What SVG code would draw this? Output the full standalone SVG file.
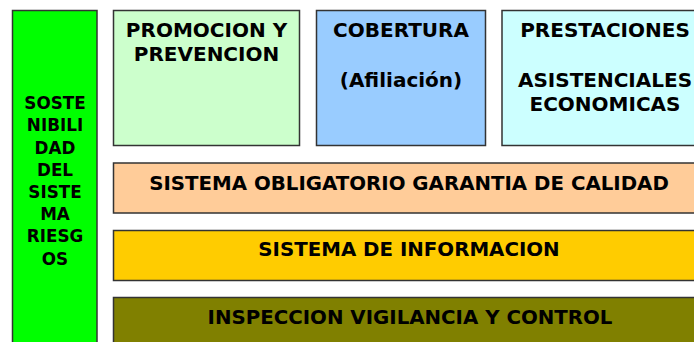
<svg xmlns="http://www.w3.org/2000/svg" width="694" height="342" viewBox="0 0 694 342">
<style>
.box{stroke:#333;stroke-width:1.5}
.t{font-family:"DejaVu Sans",Verdana,sans-serif;font-weight:bold;font-size:20px;fill:#000;text-anchor:middle}
.b{font-size:19.8px}
.s{font-size:16.8px}
</style>
<rect width="694" height="342" fill="#fff"/>
<g id="sostenibilidad">
<rect class="box" x="12.5" y="10.5" width="84.5" height="340" fill="#00FF00"/>
<text class="t s" x="55" y="109">SOSTE</text>
<text class="t s" x="55" y="131.3">NIBILI</text>
<text class="t s" x="55" y="153.5">DAD</text>
<text class="t s" x="55" y="175.7">DEL</text>
<text class="t s" x="55" y="197.9">SISTE</text>
<text class="t s" x="55" y="220.1">MA</text>
<text class="t s" x="55" y="242.3">RIESG</text>
<text class="t s" x="55" y="264.5">OS</text>
</g>
<g id="promocion">
<rect class="box" x="113.5" y="10.5" width="186" height="135" fill="#CCFFCC"/>
<text class="t" x="206.5" y="37">PROMOCION Y</text>
<text class="t" x="206.5" y="61">PREVENCION</text>
</g>
<g id="cobertura">
<rect class="box" x="316.5" y="10.5" width="169" height="135" fill="#99CCFF"/>
<text class="t" x="401" y="37">COBERTURA</text>
<text class="t" x="401" y="87">(Afiliación)</text>
</g>
<g id="prestaciones">
<rect class="box" x="502" y="10.5" width="206" height="135" fill="#CCFFFF"/>
<text class="t" x="605" y="37">PRESTACIONES</text>
<text class="t" x="605" y="87">ASISTENCIALES</text>
<text class="t" x="605" y="111">ECONOMICAS</text>
</g>
<g id="calidad">
<rect class="box" x="113.5" y="163" width="592" height="50" fill="#FFCC99"/>
<text class="t b" x="409" y="189.5">SISTEMA OBLIGATORIO GARANTIA DE CALIDAD</text>
</g>
<g id="informacion">
<rect class="box" x="113.5" y="230.5" width="592" height="50" fill="#FFCC00"/>
<text class="t b" x="409" y="256">SISTEMA DE INFORMACION</text>
</g>
<g id="inspeccion">
<rect class="box" x="113.5" y="297.5" width="592" height="50" fill="#808000"/>
<text class="t b" x="410" y="323.5">INSPECCION VIGILANCIA Y CONTROL</text>
</g>
<g id="connectors"></g>
</svg>
